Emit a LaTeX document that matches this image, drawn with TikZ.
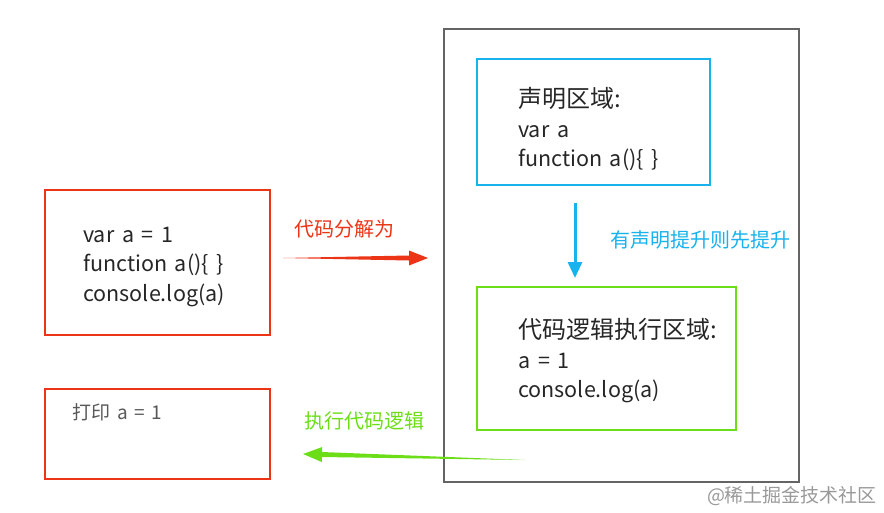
\documentclass[tikz,border=0pt]{standalone}
\usepackage{fontspec}
\setmainfont{Noto Sans CJK SC}[WordSpace=1.6]
\usetikzlibrary{arrows.meta,calc}

\definecolor{boxred}{RGB}{236,52,22}
\definecolor{boxblue}{RGB}{24,178,236}
\definecolor{boxgreen}{RGB}{108,222,24}
\definecolor{framegray}{RGB}{100,100,100}

% tapered arrow: from, to, colour
\newcommand\taperarrow[3]{%
  \path ($(#2)!19pt!(#1)$) coordinate (#2-base);
  \fill[#3] (#1) -- ($(#2-base)!2.5pt!90:(#2)$) -- ($(#2-base)!7.5pt!90:(#2)$)
    -- (#2) -- ($(#2-base)!7.5pt!-90:(#2)$) -- ($(#2-base)!2.5pt!-90:(#2)$) -- cycle;
}
\newcommand\headline[1]{{\fontsize{24}{29.5}\selectfont #1}}

\begin{document}
\begin{tikzpicture}[x=1pt,y=-1pt]
\tikzstyle{every node}=[inner sep=0pt]
\tikzstyle{box}=[draw,line width=2.5pt]
\tikzstyle{code}=[anchor=west,align=left,text=black!85,font=\fontsize{21.5}{29.5}\selectfont]
\tikzstyle{note}=[font=\fontsize{20}{20}\selectfont]
\useasboundingbox (0,0) rectangle (884,512);

% boxes
\node[box,draw=boxred,minimum width=225,minimum height=145] (src) at (157.5,262.5) {};
\node[box,draw=boxred,minimum width=225,minimum height=90] (out) at (157.5,434) {};
\node[box,draw=framegray,minimum width=355,minimum height=453] (engine) at (621.5,255.5) {};
\node[box,draw=boxblue,minimum width=233,minimum height=126] (decl) at (593.5,122) {};
\node[box,draw=boxgreen,minimum width=259,minimum height=143] (exec) at (606.5,358.5) {};

% texts
\node[code] (srctext) at (83,267) {var a = 1\\function a()\{ \}\\console.log(a)};
\node[code] (decltext) at (518,129) {\headline{声明区域:}\\var a\\function a()\{ \}};
\node[code] (exectext) at (518,361) {\headline{代码逻辑执行区域:}\\a = 1\\console.log(a)};
\node[code,text=black!65,font=\fontsize{19}{19}\selectfont] (outtext) at (72,412) {打印 a = 1};

% arrows
\coordinate (split-a) at (283,258);
\coordinate (split-b) at (428,258);
\taperarrow{split-a}{split-b}{boxred}
\node[note,text=boxred] (splitlabel) at (344,229) {代码分解为};

\coordinate (hoist-a) at (575,203);
\coordinate (hoist-b) at (575,278);
\draw[boxblue,line width=3pt,-{Triangle[length=16pt,width=14pt]}] (hoist-a) -- (hoist-b);
\node[note,text=boxblue] (hoistlabel) at (700,240) {有声明提升则先提升};

\coordinate (run-a) at (525,460);
\coordinate (run-b) at (303,454);
\taperarrow{run-a}{run-b}{boxgreen}
\node[note,text=boxgreen] (runlabel) at (364,421) {执行代码逻辑};

\node[text=black!40,font=\fontsize{19}{19}\selectfont] (mark) at (792,496) {@稀土掘金技术社区};
\end{tikzpicture}
\end{document}
